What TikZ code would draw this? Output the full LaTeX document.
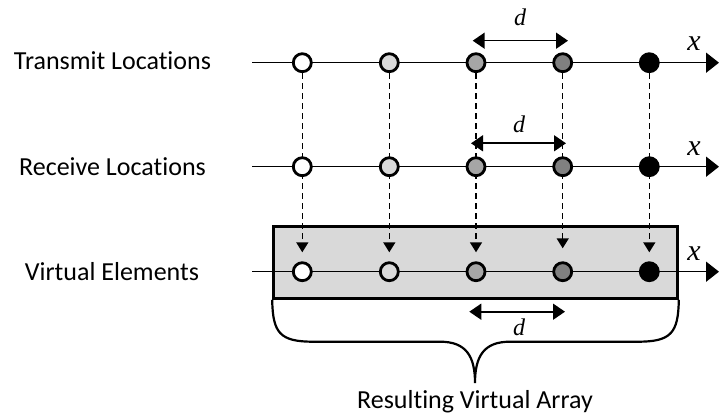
\documentclass[tikz,border=0pt]{standalone}
\usepackage{fontspec}
\setmainfont{Carlito}[Ligatures=NoCommon]
\newfontfamily\varfont{Liberation Serif}
\usetikzlibrary{arrows.meta}
\definecolor{lgray}{HTML}{D9D9D9}
\definecolor{mgray}{HTML}{A6A6A6}
\definecolor{dgray}{HTML}{808080}
\pgfdeclarelayer{behind}
\pgfdeclarelayer{back}
\pgfsetlayers{behind,back,main}
\begin{document}
\begin{tikzpicture}[
   x=1pt,y=-1pt,
   elem/.style={circle,draw,line width=2.8pt,minimum size=18pt,inner sep=0pt},
   axis/.style={line width=1.6pt,-{Triangle[length=13pt,width=20pt]}},
   gap/.style={line width=1.6pt,{Triangle[length=12pt,width=16pt]}-{Triangle[length=12pt,width=16pt]}},
   proj/.style={line width=1.5pt,dash pattern=on 6pt off 4pt,-{Triangle[length=10pt,width=12pt]}},
   arr/.style={draw,line width=2.6pt,fill=lgray,minimum width=404pt,minimum height=72pt,inner sep=0pt},
   xlab/.style={font=\varfont\itshape\fontsize{30}{32}\selectfont},
   dlab/.style={font=\varfont\itshape\fontsize{24}{26}\selectfont},
   every node/.style={font=\fontsize{26}{30}\selectfont}
 ]
  \useasboundingbox (0,0) rectangle (719,419);
  % row labels
  \node (ltx) at (112.5,61) {Transmit Locations};
  \node (lrx) at (112.5,166.5) {Receive Locations};
  \node (lva) at (112,271.5) {Virtual Elements};
  % transmit row
  \node[elem,fill=white] (t1) at (302.3,62.7) {};
  \node[elem,fill=lgray] (t2) at (389.3,62.7) {};
  \node[elem,fill=mgray] (t3) at (476,62.7) {};
  \node[elem,fill=dgray] (t4) at (562.7,62.7) {};
  \node[elem,fill=black] (t5) at (649.3,62.7) {};
  % receive row
  \node[elem,fill=white] (r1) at (302.3,166.7) {};
  \node[elem,fill=lgray] (r2) at (389.3,166.7) {};
  \node[elem,fill=mgray] (r3) at (476,166.7) {};
  \node[elem,fill=dgray] (r4) at (562.7,166.7) {};
  \node[elem,fill=black] (r5) at (649.3,166.7) {};
  % virtual row
  \node[elem,fill=white] (v1) at (302.3,271.7) {};
  \node[elem,fill=lgray] (v2) at (389.3,271.7) {};
  \node[elem,fill=mgray] (v3) at (476,271.7) {};
  \node[elem,fill=dgray] (v4) at (562.7,271.7) {};
  \node[elem,fill=black] (v5) at (649.3,271.7) {};
  \begin{pgfonlayer}{behind}
    \node[arr] (va) at (475.5,262.5) {};
  \end{pgfonlayer}
  % axes
  \coordinate (ta) at (252,62.7);  \coordinate (tb) at (719,62.7);
  \coordinate (ra) at (252,166.7); \coordinate (rb) at (719,166.7);
  \coordinate (vaa) at (252,271.7); \coordinate (vab) at (719,271.7);
  \begin{pgfonlayer}{back}
    \draw[axis] (ta)--(tb);
    \draw[axis] (ra)--(rb);
    \draw[axis] (vaa)--(vab);
    \draw[proj] (t1.south)--([yshift=9pt]v1.north);
    \draw[proj] (t2.south)--([yshift=9pt]v2.north);
    \draw[proj] (t3.south)--([yshift=9pt]v3.north);
    \draw[proj] (t4.south)--([yshift=13pt]v4.north);
    \draw[proj] (t5.south)--([yshift=9pt]v5.north);
  \end{pgfonlayer}
  \node[xlab] (xt) at (694,44) {x};
  \node[xlab] (xr) at (694,149) {x};
  \node[xlab] (xv) at (694,254) {x};
  % spacing
  \coordinate (dta) at (472.7,40.7); \coordinate (dtb) at (568,40.7);
  \coordinate (dra) at (471,143.3);  \coordinate (drb) at (566,143.3);
  \coordinate (dva) at (469.3,311.7); \coordinate (dvb) at (565,311.7);
  \draw[gap] (dta)--(dtb);
  \draw[gap] (dra)--(drb);
  \draw[gap] (dva)--(dvb);
  \node[dlab] (dt) at (520,17) {d};
  \node[dlab] (dr) at (519,124) {d};
  \node[dlab] (dv) at (519,327) {d};
  % brace
  \coordinate (tip) at (475,383);
  \draw[line width=2.2pt] (va.south west) .. controls (272.7,333) and (280,341.7) .. (313,341.7) -- (440,341.7)
     .. controls (466,341.7) and (475,356) .. (tip)
     .. controls (475,356) and (484,341.7) .. (510,341.7) -- (638,341.7)
     .. controls (671,341.7) and (678.3,333) .. (va.south east);
  \node (res) at (475,402) {Resulting Virtual Array};
 \end{tikzpicture}
\end{document}
